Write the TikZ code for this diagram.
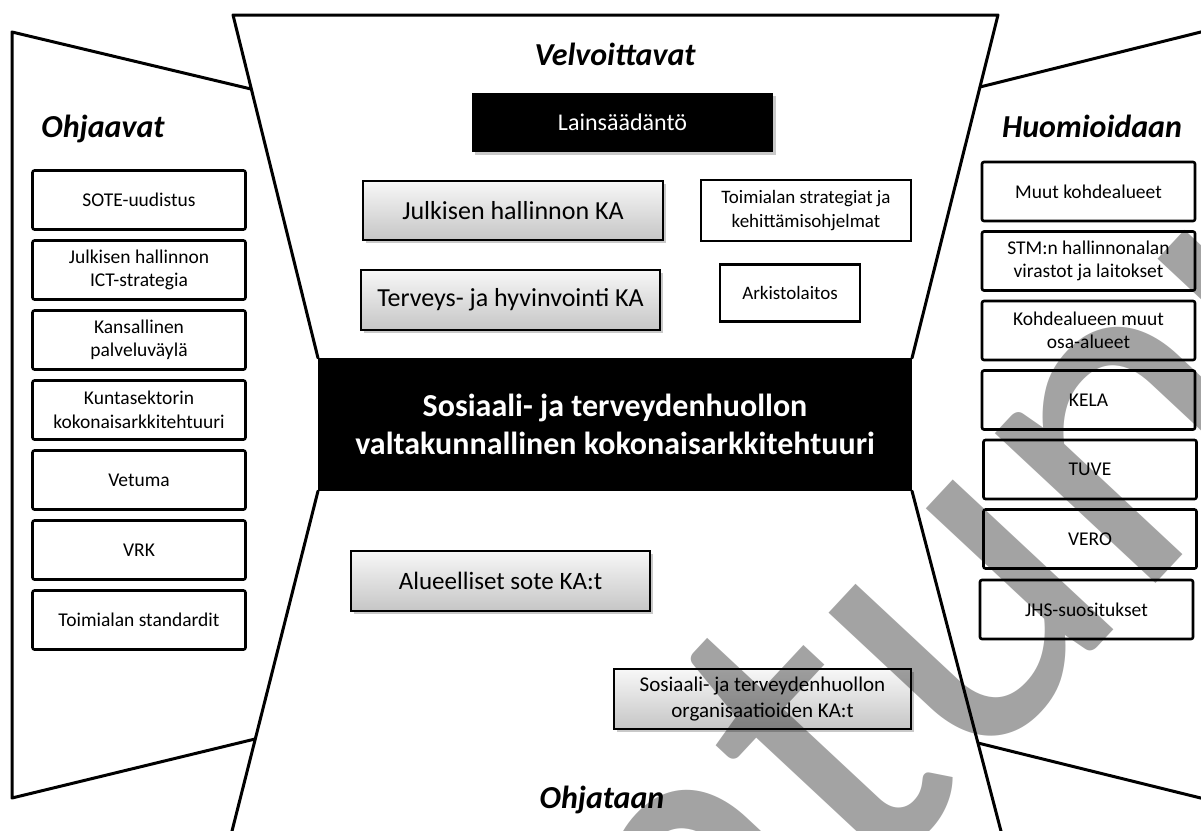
\documentclass[tikz,border=0pt]{standalone}
\usepackage{fontspec}
\setmainfont{Carlito}
\usetikzlibrary{shadows}

\tikzset{
  frameline/.style={line width=3pt, line cap=round, line join=round},
  heading/.style={font=\fontsize{32}{39}\selectfont\bfseries\itshape, anchor=base, inner sep=0pt},
  sidebox/.style={draw, line width=2.6pt, rounded corners=2pt, fill=white, align=center,
    minimum width=213pt, minimum height=59pt, inner sep=0pt,
    font=\fontsize{19.5}{23.5}\selectfont},
  graybox/.style={draw, line width=1.3pt, top color=gray!6, bottom color=gray!45,
    align=center, inner sep=0pt,
    drop shadow={shadow xshift=2.5pt, shadow yshift=-3pt, opacity=0.35, fill=black!60}},
  whitebox/.style={draw, line width=2.6pt, fill=white, align=center, inner sep=0pt,
    font=\fontsize{19}{23.2}\selectfont},
  blackbox/.style={fill=black, text=white, align=center, inner sep=0pt},
  watermark/.style={font=\fontsize{460}{460}\selectfont, text=black, text opacity=0.36,
    inner sep=0pt, rotate=47}
}

\begin{document}
\begin{tikzpicture}[x=1pt, y=-1pt]
\useasboundingbox (0,0) rectangle (1201,830);
\fill[white] (0,0) rectangle (1201,830);
\clip (0,0) rectangle (1201,830);

% corner points of the hourglass frame
\coordinate (tl) at (233,15);
\coordinate (tr) at (998,15);
\coordinate (ml) at (318,358);
\coordinate (mr) at (912,358);
\coordinate (bl) at (318,491);
\coordinate (br) at (912,491);
\coordinate (bll) at (231,835);
\coordinate (brr) at (1002,835);

% centre funnel
\draw[frameline] (ml) -- (tl) -- (tr) -- (mr);
\draw[frameline] (bl) -- (bll);
\draw[frameline] (br) -- (brr);

% left wing
\coordinate (lwt) at (251,89);
\coordinate (lwb) at (255,739);
\draw[frameline] (lwt) -- (12,32) -- (12,798) -- (lwb);

% right wing
\coordinate (rwt) at (980,87);
\coordinate (rwb) at (978,743);
\draw[frameline] (rwt) -- (1225,26);
\draw[frameline] (rwb) -- (1225,804);

% headings
\node[heading] (hv) at (615,65) {Velvoittavat};
\node[heading] (ho) at (103,137) {Ohjaavat};
\node[heading] (hh) at (1092,137) {Huomioidaan};
\node[heading] (hj) at (602,808) {Ohjataan};

% top area
\node[blackbox, minimum width=301pt, minimum height=59pt,
  font=\fontsize{24}{29}\selectfont,
  drop shadow={shadow xshift=2.5pt, shadow yshift=-3pt, opacity=0.35, fill=black!60}]
  (law) at (622.5,122.5) {Lains\"a\"ad\"ant\"o};
\node[graybox, minimum width=300pt, minimum height=59pt, font=\fontsize{26}{31}\selectfont]
  (jhka) at (513,210.5) {Julkisen hallinnon KA};
\node[graybox, minimum width=299pt, minimum height=60pt, font=\fontsize{26}{31}\selectfont]
  (thka) at (510.5,300) {Terveys- ja hyvinvointi KA};
\node[whitebox, minimum width=210pt, minimum height=61pt]
  (strat) at (806,210.5) {Toimialan strategiat ja\\kehitt\"amisohjelmat};
\node[whitebox, minimum width=140pt, minimum height=57pt]
  (arkisto) at (790,293) {Arkistolaitos};

% central block
\node[blackbox, minimum width=594pt, minimum height=133pt,
  font=\fontsize{32}{38.5}\selectfont\bfseries]
  (core) at (615,424.5) {Sosiaali- ja terveydenhuollon\\valtakunnallinen kokonaisarkkitehtuuri};

% bottom area
\node[graybox, minimum width=299pt, minimum height=60pt, font=\fontsize{25}{30}\selectfont]
  (alue) at (500.5,581) {Alueelliset sote KA:t};
\node[graybox, minimum width=297pt, minimum height=60pt, font=\fontsize{21}{25.5}\selectfont]
  (org) at (762.5,699) {Sosiaali- ja terveydenhuollon\\organisaatioiden KA:t};

% left column
\node[sidebox] (l1) at (139,200) {SOTE-uudistus};
\node[sidebox] (l2) at (139,270) {Julkisen hallinnon\\ICT-strategia};
\node[sidebox] (l3) at (139,340) {Kansallinen\\palveluv\"ayl\"a};
\node[sidebox] (l4) at (139,410) {Kuntasektorin\\kokonaisarkkitehtuuri};
\node[sidebox] (l5) at (139,480) {Vetuma};
\node[sidebox] (l6) at (139,550) {VRK};
\node[sidebox] (l7) at (139,620) {Toimialan standardit};

% right column
\node[sidebox] (r1) at (1088.5,191.5) {Muut kohdealueet};
\node[sidebox] (r2) at (1088.5,261) {STM:n hallinnonalan\\virastot ja laitokset};
\node[sidebox] (r3) at (1088.5,330.5) {Kohdealueen muut\\osa-alueet};
\node[sidebox] (r4) at (1088.5,400) {KELA};
\node[sidebox] (r5) at (1090,469.5) {TUVE};
\node[sidebox] (r6) at (1090,539) {VERO};
\node[sidebox] (r7) at (1086.5,609.5) {JHS-suositukset};

% diagonal watermark
\node[watermark, anchor=base east] (wm) at (1570,140) {Vanhentunut};
\end{tikzpicture}
\end{document}
